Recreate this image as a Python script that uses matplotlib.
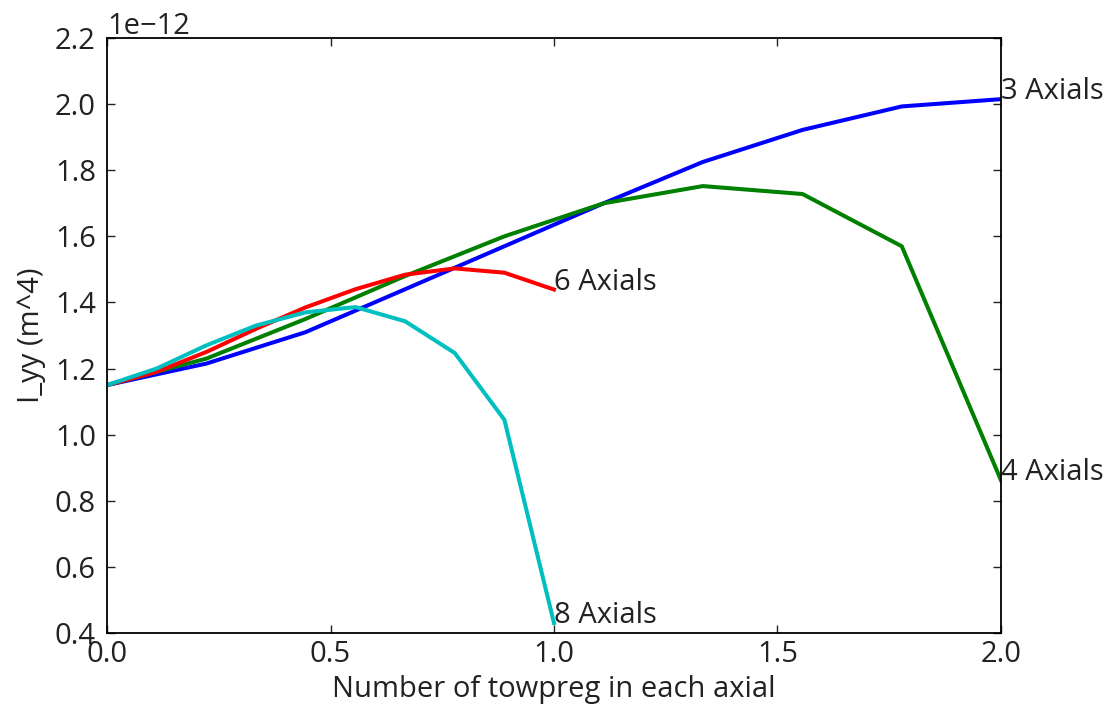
import numpy as np
import matplotlib
matplotlib.use('Agg')
import matplotlib.pyplot as plt

plt.rcParams['font.family'] = ['Open Sans', 'DejaVu Sans']

# x positions (number of towpreg) and I_yy values in units of 1e-12 m^4
x_long = [0.0, 0.222, 0.444, 0.667, 0.889, 1.111, 1.333, 1.556, 1.778, 2.0]
x_short = [0.0, 0.111, 0.222, 0.333, 0.444, 0.556, 0.667, 0.778, 0.889, 1.0]

iyy_3ax = [1.15, 1.215, 1.31, 1.44, 1.57, 1.70, 1.825, 1.922, 1.993, 2.015]
iyy_4ax = [1.15, 1.23, 1.35, 1.48, 1.60, 1.70, 1.752, 1.728, 1.570, 0.862]
iyy_6ax = [1.15, 1.19, 1.25, 1.32, 1.385, 1.44, 1.484, 1.503, 1.490, 1.439]
iyy_8ax = [1.15, 1.20, 1.27, 1.33, 1.37, 1.386, 1.343, 1.247, 1.045, 0.43]

series = [
    (x_long, iyy_3ax, 'b', '3 Axials'),
    (x_long, iyy_4ax, 'g', '4 Axials'),
    (x_short, iyy_6ax, 'r', '6 Axials'),
    (x_short, iyy_8ax, 'c', '8 Axials'),
]
colors = {'b': (0, 0, 1), 'g': (0, 0.5, 0), 'r': (1, 0, 0), 'c': (0, 0.75, 0.75)}
fs = 21

fig = plt.figure(figsize=(11.1, 7.13), dpi=100)
ax = fig.add_axes([0.0964, 0.1122, 0.8054, 0.8345])

for xs, ys, c, lab in series:
    yv = np.array(ys) * 1e-12
    ax.plot(xs, yv, color=colors[c], lw=2.9)
    ax.text(xs[-1], yv[-1], lab, fontsize=fs, color='#222222')

ax.set_xlim(0, 2.0)
ax.set_ylim(0.4e-12, 2.2e-12)
ax.set_xticks([0.0, 0.5, 1.0, 1.5, 2.0])
ax.set_yticks(np.arange(0.4, 2.21, 0.2) * 1e-12)
ax.tick_params(direction='in', top=True, right=True, length=6, width=1,
               labelsize=fs, colors='#222222')
ax.tick_params(axis='x', pad=5)
ax.tick_params(axis='y', pad=8)
ax.yaxis.get_offset_text().set_fontsize(fs)
ax.yaxis.get_offset_text().set_color('#222222')
for sp in ax.spines.values():
    sp.set_linewidth(1.3)

ax.set_xlabel('Number of towpreg in each axial', fontsize=fs, color='#222222', labelpad=4)
ax.set_ylabel('I_yy (m^4)', fontsize=fs, color='#222222', labelpad=6)

fig.savefig('out.png', dpi=100, facecolor='white')
